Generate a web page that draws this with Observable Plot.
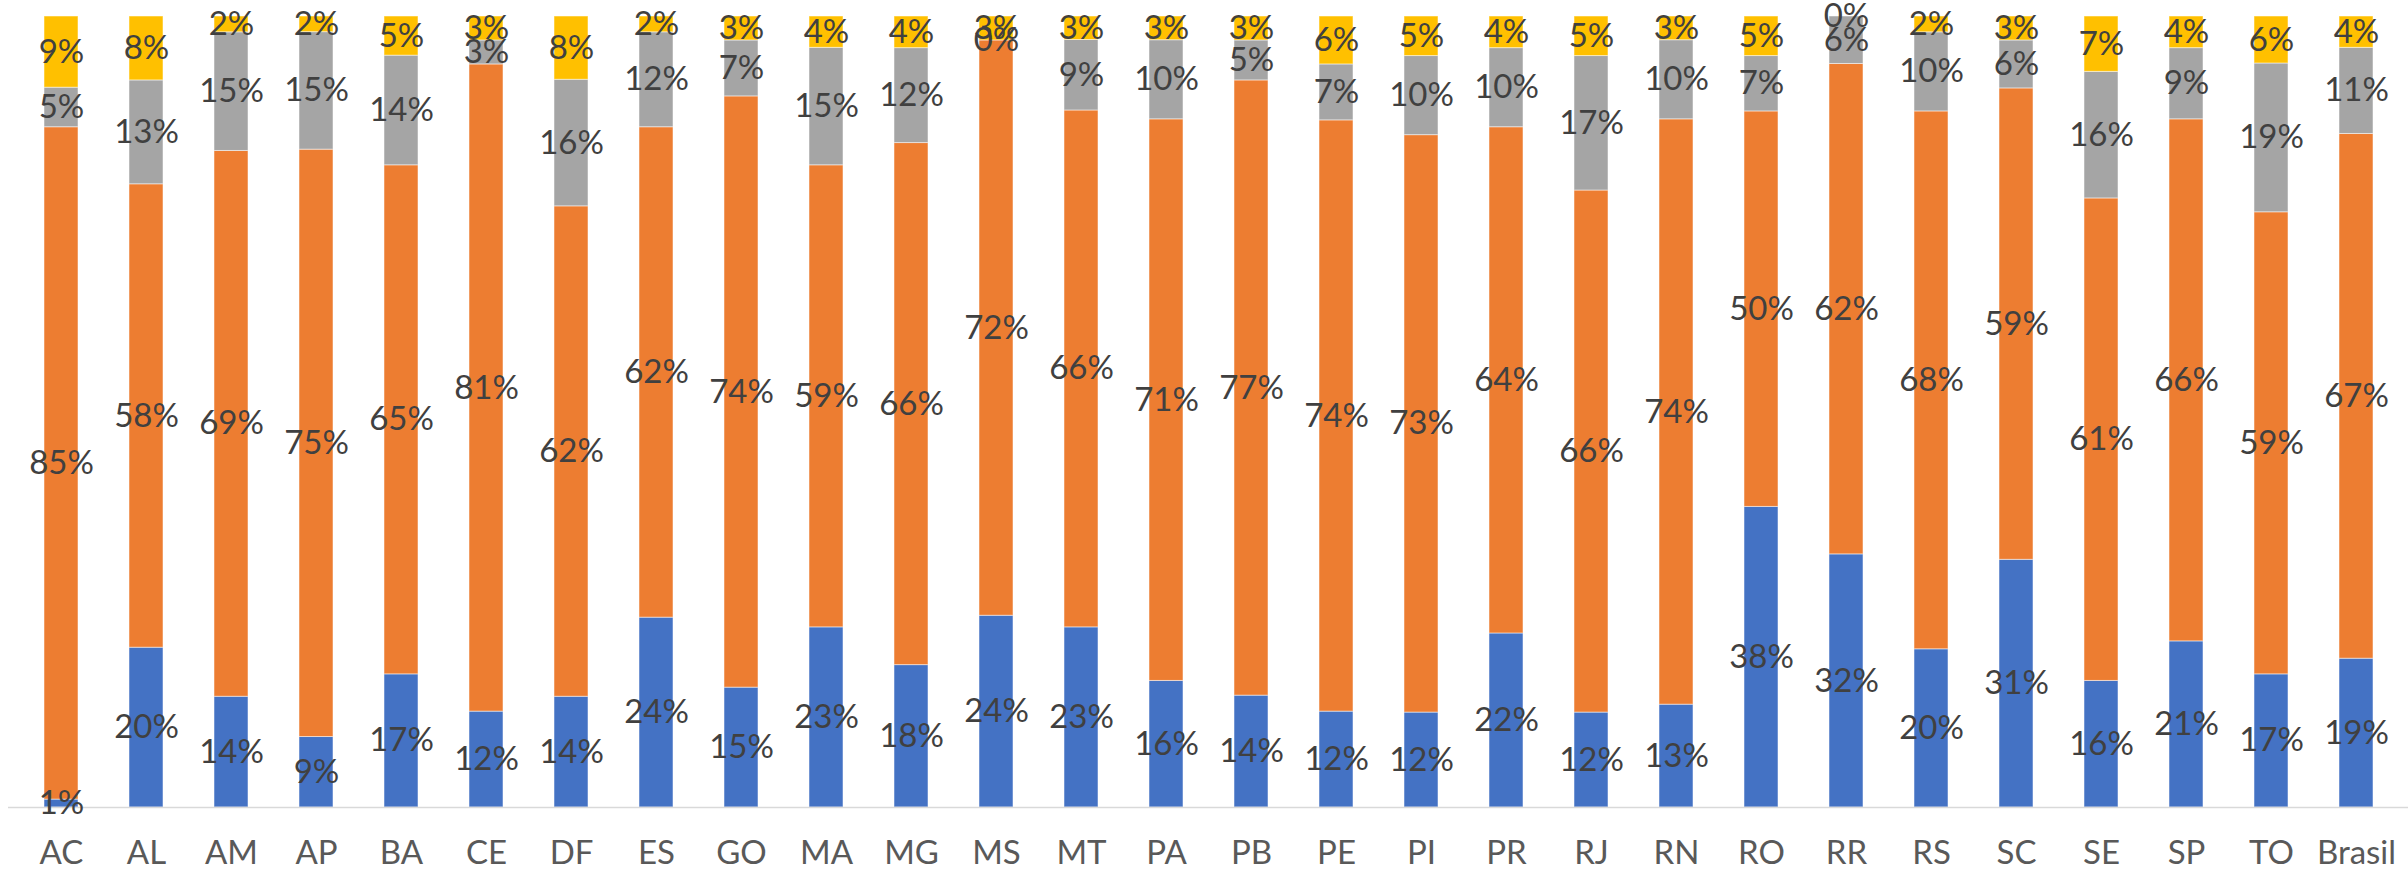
<!DOCTYPE html>
<html>
<head>
<meta charset="utf-8">
<script src="https://cdn.jsdelivr.net/npm/d3@7"></script>
<script src="https://cdn.jsdelivr.net/npm/@observablehq/plot@0.6"></script>
<style>
  html, body { margin: 0; padding: 0; background: #ffffff; }
  #chart svg { display: block; }
</style>
</head>
<body>
<div id="chart"></div>
<script>
const categories = ["AC","AL","AM","AP","BA","CE","DF","ES","GO","MA","MG","MS","MT","PA","PB","PE","PI","PR","RJ","RN","RO","RR","RS","SC","SE","SP","TO","Brasil"];
const seriesBlue   = [1,20,14,9,17,12,14,24,15,23,18,24,23,16,14,12,12,22,12,13,38,32,20,31,16,21,17,19];
const seriesOrange = [85,58,69,75,65,81,62,62,74,59,66,72,66,71,77,74,73,64,66,74,50,62,68,59,61,66,59,67];
const seriesGray   = [5,13,15,15,14,3,16,12,7,15,12,0,9,10,5,7,10,10,17,10,7,6,10,6,16,9,19,11];
const seriesYellow = [9,8,2,2,5,3,8,2,3,4,4,3,3,3,3,6,5,4,5,3,5,0,2,3,7,4,6,4];
const seriesKeys = ["S1","S2","S3","S4"];
const seriesColors = ["#4472C4","#ED7D31","#A5A5A5","#FFC000"];

const seriesValues = [seriesBlue, seriesOrange, seriesGray, seriesYellow];
const data = categories.flatMap((c, i) =>
  seriesKeys.map((s, k) => ({cat: c, series: s, value: seriesValues[k][i]}))
);

const chart = Plot.plot({
  width: 2408,
  height: 869,
  marginTop: 16,
  marginBottom: 62,
  marginLeft: 8,
  marginRight: 0,
  style: {fontFamily: "Lato, 'Open Sans', sans-serif", background: "#ffffff", overflow: "visible"},
  x: {domain: categories, paddingInner: 0.6, paddingOuter: 0.3, label: null},
  y: {axis: null},
  color: {domain: seriesKeys, range: seriesColors},
  marks: [
    Plot.barY(data, Plot.stackY({offset: "normalize", x: "cat", y: "value", z: "series", fill: "series", stroke: "#ffffff", strokeOpacity: 0.5, strokeWidth: 1})),
    Plot.ruleY([0], {stroke: "#d9d9d9", strokeWidth: 1.5}),
    Plot.text(data, Plot.stackY({offset: "normalize", x: "cat", y: "value", z: "series", text: d => d.value + "%", fill: "#404040", fontSize: 33})),
    Plot.axisX({tickSize: 0, tickPadding: 33, fontSize: 33, fill: "#595959", label: null})
  ]
});
document.getElementById("chart").appendChild(chart);
</script>
</body>
</html>
